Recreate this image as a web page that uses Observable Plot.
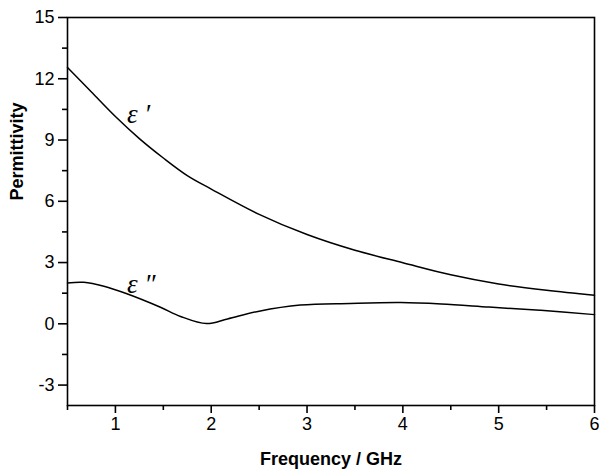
<!DOCTYPE html>
<html><head><meta charset="utf-8">
<script src="https://cdn.jsdelivr.net/npm/d3@7"></script>
<script src="https://cdn.jsdelivr.net/npm/@observablehq/plot@0.6"></script>
<style>body{margin:0;background:#fff}</style>
</head><body><div id="chart"></div>
<script>
// ε' (real part)
const freqReal = [0.5, 0.75, 1, 1.25, 1.5, 1.75, 2, 2.5, 3, 3.5, 4, 4.5, 5, 5.5, 6];
const epsReal  = [12.55, 11.35, 10.15, 9.07, 8.12, 7.26, 6.6, 5.36, 4.37, 3.6, 2.99, 2.4, 1.95, 1.64, 1.4];
// ε'' (imaginary part)
const freqImag = [0.5, 0.67, 0.88, 1.12, 1.47, 1.68, 1.95, 2.17, 2.5, 2.93, 3.45, 3.98, 4.4, 4.9, 5.44, 6];
const epsImag  = [2.0, 2.03, 1.84, 1.47, 0.81, 0.36, 0.01, 0.24, 0.62, 0.92, 1.0, 1.04, 0.97, 0.82, 0.66, 0.45];
// tick values
const xMajor = [1, 2, 3, 4, 5, 6];
const xMinor = [0.5, 1.5, 2.5, 3.5, 4.5, 5.5];
const yMajor = [-3, 0, 3, 6, 9, 12, 15];
const yMinor = [-1.5, 1.5, 4.5, 7.5, 10.5, 13.5];
// curve labels
const labelNames = ["ε ′", "ε ″"];
const labelX = [1.12, 1.12];
const labelY = [10.25, 1.95];

const real = freqReal.map((f, i) => ({f, v: epsReal[i]}));
const imag = freqImag.map((f, i) => ({f, v: epsImag[i]}));
const labels = labelNames.map((t, i) => ({t, x: labelX[i], y: labelY[i]}));

const chart = Plot.plot({
  width: 599, height: 470,
  marginLeft: 67, marginRight: 5, marginTop: 17, marginBottom: 65,
  x: {domain: [0.5, 6]},
  y: {domain: [-4, 15]},
  style: {fontFamily: "Liberation Sans, Arial, sans-serif", background: "#fff", color: "#000"},
  marks: [
    Plot.axisX(xMajor, {tickSize: 8, text: null, strokeWidth: 1.6, label: null}),
    Plot.axisX(xMinor, {tickSize: 5, text: null, strokeWidth: 1.6, label: null}),
    Plot.axisY(yMajor, {tickSize: 9, text: null, strokeWidth: 1.6, label: null}),
    Plot.axisY(yMinor, {tickSize: 5, text: null, strokeWidth: 1.6, label: null}),
    Plot.text(xMajor, {x: d => d, frameAnchor: "bottom", dy: 12, lineAnchor: "top", fontSize: 18, text: d => String(d)}),
    Plot.text(yMajor, {y: d => d, frameAnchor: "left", dx: -13, textAnchor: "end", lineAnchor: "middle", fontSize: 18, text: d => String(d)}),
    Plot.frame({stroke: "#000", strokeWidth: 1.6}),
    Plot.line(real, {x: "f", y: "v", curve: "catmull-rom", stroke: "#000", strokeWidth: 1.5}),
    Plot.line(imag, {x: "f", y: "v", curve: "catmull-rom", stroke: "#000", strokeWidth: 1.5}),
    Plot.text(labels, {x: "x", y: "y", text: "t", fontSize: 27, fontStyle: "italic", fontFamily: "Liberation Serif, Times New Roman, serif", textAnchor: "start", lineAnchor: "middle"}),
    Plot.text(["Frequency / GHz"], {frameAnchor: "bottom", dy: 54, fontSize: 18, fontWeight: "bold", lineAnchor: "middle"}),
    Plot.text(["Permittivity"], {frameAnchor: "left", dx: -50, dy: -11, rotate: -90, fontSize: 18, fontWeight: "bold"})
  ]
});
document.getElementById("chart").appendChild(chart);
</script>
</body></html>
